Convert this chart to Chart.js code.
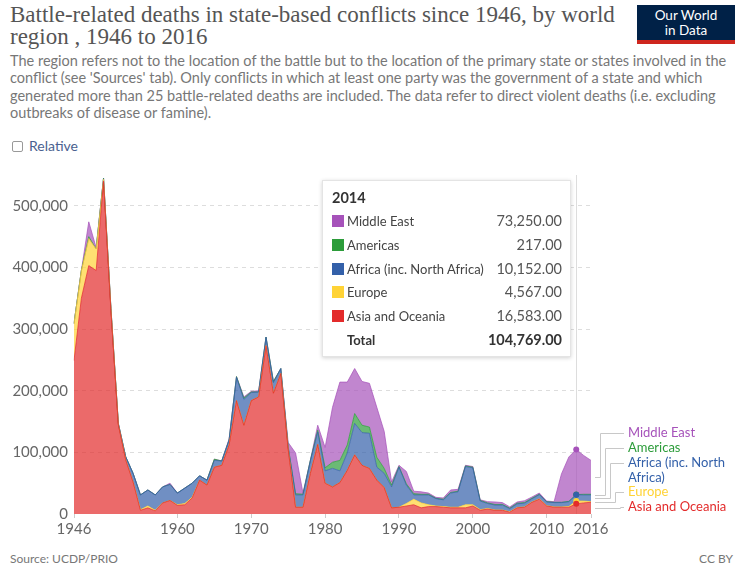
<!DOCTYPE html>
<html>
<head>
<meta charset="utf-8">
<script src="https://cdn.jsdelivr.net/npm/chart.js@4.4.1/dist/chart.umd.min.js"></script>
<style>
  body { margin: 0; width: 743px; height: 569px; position: relative; overflow: hidden; background: #fff; font-family: Lato, "Noto Sans", sans-serif; }
  #title { position: absolute; left: 10px; top: 4px; font-family: "Liberation Serif", serif; font-size: 23px; line-height: 22px; color: #555; }
  #subtitle { position: absolute; left: 10px; top: 52px; font-size: 14.5px; line-height: 17.3px; color: #777; }
  #logo { position: absolute; left: 637px; top: 5px; width: 98px; height: 35px; background: #002147; border-bottom: 4px solid #ce261e; color: #fff; font-size: 13.5px; line-height: 15px; text-align: center; padding-top: 3px; box-sizing: content-box; height: 32px; }
  #relative { position: absolute; left: 12px; top: 137px; font-size: 14px; color: #4a6190; }
  #relative span.box { display: inline-block; width: 9px; height: 9px; border: 1px solid #999; border-radius: 2px; margin-right: 6px; vertical-align: -1px; }
  #chart { position: absolute; left: 0; top: 160px; }
  #tip { position: absolute; left: 322px; top: 180px; width: 249px; height: 177px; background: #fff; border: 1px solid #e4e4e4; box-shadow: 0 1px 4px rgba(0,0,0,0.18); box-sizing: border-box; font-size: 13px; color: #333; }
  #tip .head { position: absolute; left: 9px; top: 7px; font-size: 14.5px; font-weight: bold; color: #333; line-height: 20px; }
  #tip .row { position: absolute; left: 9px; right: 8px; height: 20px; line-height: 20px; }
  #tip .sq { position: absolute; left: 0; top: 4px; width: 12px; height: 12px; }
  #tip .lab { position: absolute; left: 15px; color: #444; }
  #tip .val { position: absolute; right: 0; font-size: 14.5px; color: #555; }
  #tip .tot .lab, #tip .tot .val { font-weight: bold; color: #333; }
  #source { position: absolute; left: 10px; top: 551px; font-size: 12px; color: #777; }
  #cc { position: absolute; right: 10px; top: 551px; font-size: 12px; color: #777; }
</style>
</head>
<body>
<div id="title">Battle-related deaths in state-based conflicts since 1946, by world<br>region , 1946 to 2016</div>
<div id="subtitle">The region refers not to the location of the battle but to the location of the primary state or states involved in the<br>conflict (see 'Sources' tab). Only conflicts in which at least one party was the government of a state and which<br>generated more than 25 battle-related deaths are included. The data refer to direct violent deaths (i.e. excluding<br>outbreaks of disease or famine).</div>
<div id="logo">Our World<br>in Data</div>
<div id="relative"><span class="box"></span>Relative</div>
<canvas id="chart" width="743" height="384"></canvas>
<div id="tip"></div>
<div id="source">Source: UCDP/PRIO</div>
<div id="cc">CC BY</div>
<script>
const years = [
  "1946", "1947", "1948", "1949", "1950", "1951", "1952", "1953", "1954", "1955",
  "1956", "1957", "1958", "1959", "1960", "1961", "1962", "1963", "1964", "1965",
  "1966", "1967", "1968", "1969", "1970", "1971", "1972", "1973", "1974", "1975",
  "1976", "1977", "1978", "1979", "1980", "1981", "1982", "1983", "1984", "1985",
  "1986", "1987", "1988", "1989", "1990", "1991", "1992", "1993", "1994", "1995",
  "1996", "1997", "1998", "1999", "2000", "2001", "2002", "2003", "2004", "2005",
  "2006", "2007", "2008", "2009", "2010", "2011", "2012", "2013", "2014", "2015",
  "2016",
];

const xTickYears = ["1946", "1960", "1970", "1980", "1990", "2000", "2010", "2016"];
const yTicks = [0, 100000, 200000, 300000, 400000, 500000];

const asiaOceania = [
  249000, 350000, 403000, 395000, 540000, 330000, 145000, 88000, 52000, 6000,
  10000, 5000, 18000, 22000, 14000, 15000, 26000, 55000, 47000, 76000,
  79000, 112000, 184000, 144000, 184000, 190000, 273000, 196000, 228000, 105000,
  11000, 11000, 66000, 113000, 50000, 44000, 51000, 71000, 96000, 79000,
  74000, 55000, 43000, 10000, 11000, 13000, 15000, 10000, 12000, 12000,
  11000, 10000, 10000, 10000, 13000, 6000, 8000, 6000, 6000, 3000,
  10000, 11000, 19000, 24000, 13000, 11000, 11000, 11000, 16583, 18000,
  19000,
];

const europe = [
  60000, 45000, 44000, 35000, 3000, 2000, 0, 0, 0, 1000,
  3000, 1000, 0, 0, 1000, 2000, 1000, 0, 0, 0,
  0, 0, 0, 0, 0, 0, 0, 0, 0, 0,
  0, 0, 0, 0, 0, 0, 0, 0, 0, 0,
  0, 0, 0, 0, 0, 4000, 9000, 8000, 3000, 1000,
  1000, 1000, 1000, 5000, 2000, 1000, 1000, 500, 500, 500,
  500, 500, 500, 500, 500, 500, 500, 1000, 4567, 3000,
  1000,
];

const africa = [
  0, 0, 0, 0, 1000, 1000, 2000, 5000, 14000, 24000,
  26000, 25000, 26000, 26000, 19000, 25000, 23000, 7000, 8000, 11000,
  7000, 8000, 38000, 42000, 13000, 8000, 14000, 17000, 8000, 3000,
  20000, 20000, 20000, 20000, 20000, 30000, 19000, 28000, 51000, 53000,
  57000, 21000, 23000, 34000, 65000, 30000, 7000, 13000, 16000, 12000,
  11000, 23000, 25000, 62000, 60000, 14000, 8000, 8000, 8000, 5000,
  6000, 6000, 5000, 7000, 6000, 7000, 7000, 8000, 10152, 10000,
  11000,
];

const americas = [
  0, 0, 3000, 0, 1000, 1000, 0, 0, 0, 0,
  0, 0, 0, 0, 0, 0, 0, 0, 0, 2000,
  0, 0, 1000, 2000, 1000, 0, 0, 2000, 0, 1000,
  2000, 1000, 1000, 3000, 5000, 10000, 17000, 13000, 16000, 12000,
  10000, 16000, 8000, 3000, 1000, 2000, 2000, 1000, 1000, 500,
  1000, 1000, 1000, 1000, 1000, 1000, 1000, 1000, 1000, 1000,
  1000, 1000, 1000, 500, 500, 500, 500, 500, 217, 1000,
  1000,
];

const middleEast = [
  0, 0, 24000, 2000, 0, 0, 0, 0, 0, 0,
  0, 0, 0, 2000, 0, 0, 0, 0, 0, 0,
  0, 2000, 0, 2000, 1000, 2000, 0, 0, 0, 7000,
  66000, 2000, 0, 8000, 33000, 89000, 127000, 102000, 73000, 71000,
  71000, 81000, 60000, 5000, 2000, 20000, 4000, 4000, 2000, 1500,
  2000, 4000, 3000, 1000, 1000, 1000, 2000, 4000, 3000, 2000,
  2000, 3000, 2000, 2000, 1000, 1000, 46000, 72000, 73250, 63000,
  55000,
];

const hoverYear = "2014";
const hoverIndex = years.indexOf(hoverYear);

// bottom to top
const series = [
  { label: "Asia and Oceania", data: asiaOceania, color: "227,43,43" },
  { label: "Europe", data: europe, color: "255,211,54" },
  { label: "Africa (inc. North Africa)", data: africa, color: "51,96,169" },
  { label: "Americas", data: americas, color: "44,156,58" },
  { label: "Middle East", data: middleEast, color: "166,82,186" },
];

// side labels, top to bottom, with their own text lines
const sideLabels = [
  { series: 4, lines: ["Middle East"], y: 433, elbow: 600 },
  { series: 3, lines: ["Americas"], y: 448, elbow: 605 },
  { series: 2, lines: ["Africa (inc. North", "Africa)"], y: 463, elbow: 610 },
  { series: 1, lines: ["Europe"], y: 492, elbow: 615 },
  { series: 0, lines: ["Asia and Oceania"], y: 507, elbow: 620 },
];

const fmt = (v) => v.toLocaleString("en-US");

// vertical hover line
const hoverLine = {
  id: "hoverLine",
  beforeDatasetsDraw(chart) {
    const { ctx, chartArea, scales } = chart;
    const x = scales.x.getPixelForValue(hoverIndex);
    ctx.save();
    ctx.strokeStyle = "#ddd";
    ctx.lineWidth = 1;
    ctx.beginPath();
    ctx.moveTo(Math.round(x) + 0.5, chartArea.top);
    ctx.lineTo(Math.round(x) + 0.5, chartArea.bottom);
    ctx.stroke();
    ctx.restore();
  },
};

// labels at the right end with connector lines
const endLabels = {
  id: "endLabels",
  afterDatasetsDraw(chart) {
    const { ctx, chartArea, scales } = chart;
    const last = years.length - 1;
    const canvasTop = chart.canvas.offsetTop;
    ctx.save();
    ctx.font = "13px Lato";
    ctx.textBaseline = "middle";
    sideLabels.forEach((s) => {
      let below = 0;
      for (let i = 0; i < s.series; i++) below += series[i].data[last];
      const mid = below + series[s.series].data[last] / 2;
      const yBand = scales.y.getPixelForValue(mid);
      const yLab = s.y - canvasTop;
      const x0 = chartArea.right + 4;
      ctx.strokeStyle = "#c8c8c8";
      ctx.lineWidth = 1;
      ctx.beginPath();
      ctx.moveTo(x0, Math.round(yBand) + 0.5);
      ctx.lineTo(s.elbow + 0.5, Math.round(yBand) + 0.5);
      ctx.lineTo(s.elbow + 0.5, Math.round(yLab) + 0.5);
      ctx.lineTo(624, Math.round(yLab) + 0.5);
      ctx.stroke();
      ctx.fillStyle = "rgb(" + series[s.series].color + ")";
      s.lines.forEach((t, k) => ctx.fillText(t, 628, yLab + k * 14.5));
    });
    ctx.restore();
  },
};

new Chart(document.getElementById("chart"), {
  type: "line",
  data: {
    labels: years,
    datasets: series.map((s, i) => ({
      label: s.label,
      data: s.data,
      fill: i === 0 ? "origin" : "-1",
      backgroundColor: "rgba(" + s.color + ",0.7)",
      borderColor: "rgba(" + s.color + ",0.9)",
      borderWidth: 0.8,
      tension: 0,
      pointRadius: (c) => (c.dataIndex === hoverIndex ? 3 : 0),
      pointBackgroundColor: "rgb(" + s.color + ")",
      pointBorderWidth: 0,
    })),
  },
  options: {
    responsive: false,
    animation: false,
    layout: { padding: { top: 14, right: 152, left: 0, bottom: 0 } },
    plugins: {
      legend: { display: false },
      tooltip: { enabled: false },
    },
    scales: {
      x: {
        offset: false,
        grid: { drawOnChartArea: false, drawTicks: true, tickLength: 4, color: "#ccc" },
        border: { display: false },
        ticks: {
          autoSkip: false,
          maxRotation: 0,
          padding: 2,
          color: "#666",
          font: { family: "Lato", size: 15 },
          callback: function (v) {
            const y = this.getLabelForValue(v);
            return xTickYears.includes(y) ? y : null;
          },
        },
        afterFit: (s) => { s.height = 30; },
      },
      y: {
        stacked: true,
        min: 0,
        max: 550000,
        afterBuildTicks: (axis) => { axis.ticks = yTicks.map((v) => ({ value: v })); },
        grid: {
          drawTicks: false,
          color: (c) => (c.tick && c.tick.value === 0 ? "rgba(0,0,0,0)" : "#ddd"),
        },
        border: { display: false, dash: [4, 4] },
        ticks: {
          padding: 6,
          color: "#666",
          font: { family: "Lato", size: 15 },
          callback: (v) => fmt(v),
        },
        afterFit: (s) => { s.width = 74; },
      },
    },
  },
  plugins: [hoverLine, endLabels],
});

// hover box for 2014
const tip = document.getElementById("tip");
let html = '<div class="head">' + hoverYear + "</div>";
let total = 0;
const rows = series.slice().reverse();
rows.forEach((s, i) => {
  const v = s.data[hoverIndex];
  total += v;
  html += '<div class="row" style="top:' + (30 + i * 23.8) + 'px">' +
    '<span class="sq" style="background:rgb(' + s.color + ')"></span>' +
    '<span class="lab">' + s.label + "</span>" +
    '<span class="val">' + v.toLocaleString("en-US", { minimumFractionDigits: 2 }) + "</span></div>";
});
html += '<div class="row tot" style="top:' + (30 + rows.length * 23.8) + 'px">' +
  '<span class="lab">Total</span>' +
  '<span class="val">' + total.toLocaleString("en-US", { minimumFractionDigits: 2 }) + "</span></div>";
tip.innerHTML = html;
</script>
</body>
</html>
